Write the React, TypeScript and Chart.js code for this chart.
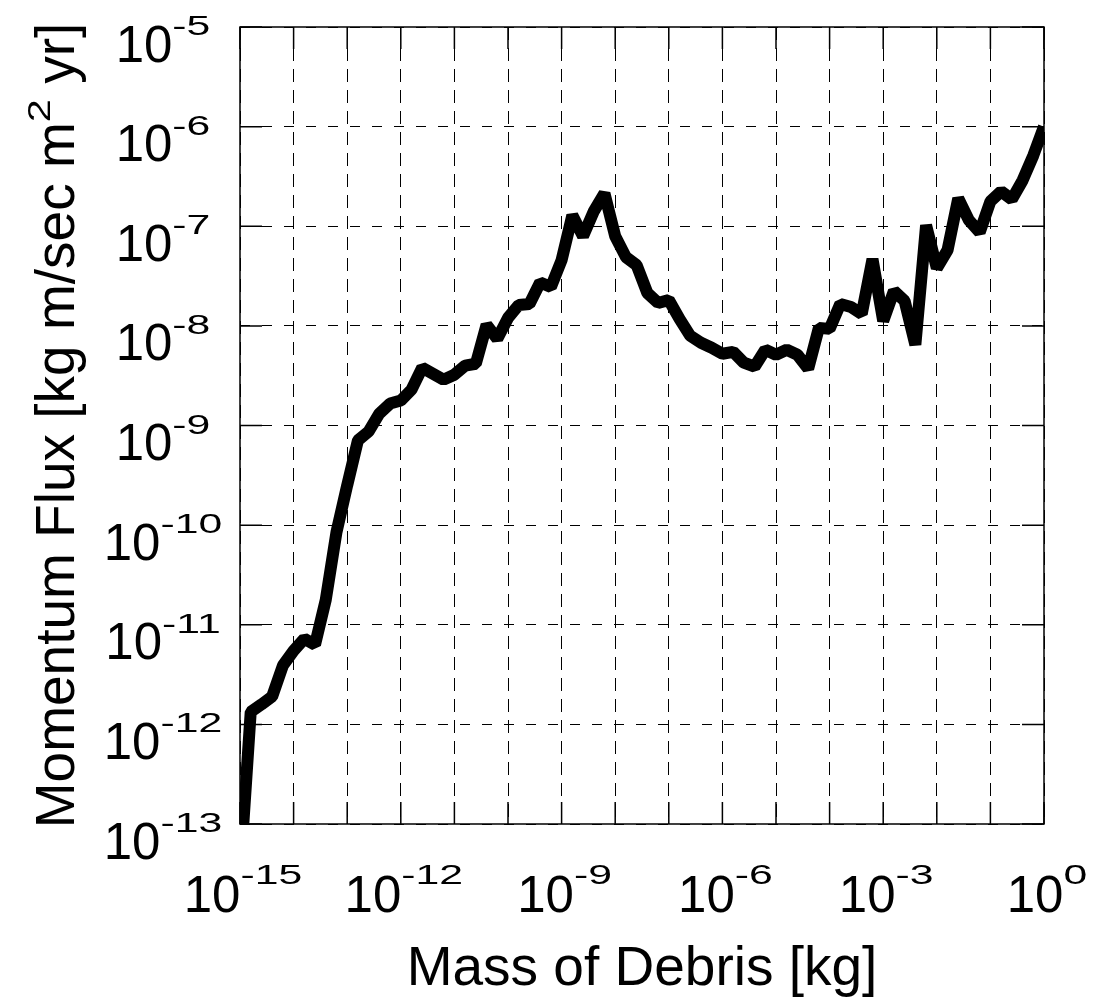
import React, { useEffect, useRef } from "react";
import { Chart, registerables } from "chart.js";

Chart.register(...registerables);

// log10 of debris mass [kg]
const massLog = [
  -15.0, -14.8, -14.6, -14.4, -14.2, -14.0, -13.8, -13.6, -13.4, -13.2,
  -13.0, -12.8, -12.6, -12.4, -12.2, -12.0, -11.8, -11.6, -11.4, -11.2,
  -11.0, -10.8, -10.6, -10.4, -10.2, -10.0, -9.8, -9.6, -9.4, -9.2,
  -9.0, -8.8, -8.6, -8.4, -8.2, -8.0, -7.8, -7.6, -7.4, -7.2,
  -7.0, -6.8, -6.6, -6.4, -6.2, -6.0, -5.8, -5.6, -5.4, -5.2,
  -5.0, -4.8, -4.6, -4.4, -4.2, -4.0, -3.8, -3.6, -3.4, -3.2,
  -3.0, -2.8, -2.6, -2.4, -2.2, -2.0, -1.8, -1.6, -1.4, -1.2,
  -1.0, -0.8, -0.6, -0.4, -0.2, 0.0,
];

// log10 of momentum flux [kg m/sec m^2 yr]
const fluxLog = [
  -13.5, -11.875, -11.8, -11.72, -11.41, -11.26, -11.14, -11.2, -10.75, -10.07,
  -9.6, -9.15, -9.06, -8.88, -8.78, -8.75, -8.64, -8.42, -8.48, -8.54,
  -8.49, -8.4, -8.38, -7.99, -8.13, -7.92, -7.79, -7.78, -7.565, -7.61,
  -7.34, -6.89, -7.1, -6.85, -6.67, -7.1, -7.31, -7.39, -7.67, -7.77,
  -7.74, -7.93, -8.1, -8.17, -8.22, -8.28, -8.26, -8.37, -8.41, -8.24,
  -8.29, -8.24, -8.29, -8.43, -8.02, -8.03, -7.78, -7.81, -7.88, -7.33,
  -7.95, -7.65, -7.75, -8.19, -6.99, -7.42, -7.24, -6.72, -6.94, -7.06,
  -6.75, -6.65, -6.73, -6.54, -6.29, -6.0,
];

// grid decades and labelled decades
const xGridExp = [-15, -14, -13, -12, -11, -10, -9, -8, -7, -6, -5, -4, -3, -2, -1, 0];
const xLabelExp = [-15, -12, -9, -6, -3, 0];
const yGridExp = [-13, -12, -11, -10, -9, -8, -7, -6, -5];
const yLabelExp = [-13, -12, -11, -10, -9, -8, -7, -6, -5];

const xTitle = "Mass of Debris [kg]";
const yTitleMain = "Momentum Flux [kg m/sec m";
const yTitleSup = "2";
const yTitleEnd = " yr]";

const FONT = '"Liberation Sans", Arial, Helvetica, sans-serif';
const EXP_STRETCH = 1.5;

function drawPow(
  ctx: CanvasRenderingContext2D,
  cx: number,
  baseY: number,
  exp: string,
  baseSize: number,
  expSize: number,
  rise: number
) {
  ctx.font = `${baseSize}px ${FONT}`;
  const wb = ctx.measureText("10").width;
  ctx.font = `${expSize}px ${FONT}`;
  const we = ctx.measureText(exp).width * EXP_STRETCH;
  const left = cx - (wb + we) / 2;
  ctx.textAlign = "left";
  ctx.textBaseline = "alphabetic";
  ctx.font = `${baseSize}px ${FONT}`;
  ctx.fillText("10", left, baseY);
  ctx.save();
  ctx.translate(left + wb, baseY - rise);
  ctx.scale(EXP_STRETCH, 1);
  ctx.font = `${expSize}px ${FONT}`;
  ctx.fillText(exp, 0, 0);
  ctx.restore();
}

const decorPlugin = {
  id: "decor",
  afterDraw(chart: any) {
    const { ctx, chartArea: a, scales } = chart;
    const xs = scales.x;
    const ys = scales.y;
    ctx.save();
    ctx.setLineDash([]);
    ctx.strokeStyle = "#000";
    ctx.lineWidth = 1.5;
    ctx.strokeRect(a.left, a.top, a.right - a.left, a.bottom - a.top);

    const TL = 22;
    ctx.beginPath();
    for (const e of xGridExp) {
      const px = xs.getPixelForValue(Math.pow(10, e));
      ctx.moveTo(px, a.bottom);
      ctx.lineTo(px, a.bottom - TL);
      ctx.moveTo(px, a.top);
      ctx.lineTo(px, a.top + TL);
    }
    for (const e of yGridExp) {
      const py = ys.getPixelForValue(Math.pow(10, e));
      ctx.moveTo(a.left, py);
      ctx.lineTo(a.left + TL, py);
      ctx.moveTo(a.right, py);
      ctx.lineTo(a.right - TL, py);
    }
    ctx.stroke();

    ctx.fillStyle = "#000";
    // x tick labels
    for (const e of xLabelExp) {
      const px = xs.getPixelForValue(Math.pow(10, e));
      drawPow(ctx, px + 3, 912, String(e), 51, 28.5, 28);
    }
    // y tick labels
    for (const e of yLabelExp) {
      const py = ys.getPixelForValue(Math.pow(10, e));
      drawPow(ctx, 163, py + 34.5, String(e), 51, 28.5, 26.5);
    }

    // x title
    ctx.font = `55px ${FONT}`;
    ctx.textAlign = "center";
    ctx.textBaseline = "alphabetic";
    ctx.fillText(xTitle, (a.left + a.right) / 2, 985);

    // y title (rotated)
    ctx.save();
    ctx.translate(74, (a.top + a.bottom) / 2);
    ctx.rotate(-Math.PI / 2);
    ctx.textAlign = "left";
    ctx.font = `55px ${FONT}`;
    const w1 = ctx.measureText(yTitleMain).width;
    const w3 = ctx.measureText(yTitleEnd).width;
    ctx.font = `32px ${FONT}`;
    const supStretch = 1.3;
    const w2 = ctx.measureText(yTitleSup).width * supStretch;
    const total = w1 + w2 + w3;
    const x0 = -total / 2;
    ctx.font = `55px ${FONT}`;
    ctx.fillText(yTitleMain, x0, 0);
    ctx.save();
    ctx.translate(x0 + w1, -24);
    ctx.scale(supStretch, 1);
    ctx.font = `32px ${FONT}`;
    ctx.fillText(yTitleSup, 0, 0);
    ctx.restore();
    ctx.font = `55px ${FONT}`;
    ctx.fillText(yTitleEnd, x0 + w1 + w2, 0);
    ctx.restore();

    ctx.restore();
  },
};

export default function App() {
  const canvasRef = useRef<HTMLCanvasElement | null>(null);

  useEffect(() => {
    const canvas = canvasRef.current;
    if (!canvas) return;
    const points = massLog.map((m, i) => ({ x: Math.pow(10, m), y: Math.pow(10, fluxLog[i]) }));
    const chart = new Chart(canvas, {
      type: "line",
      data: {
        datasets: [
          {
            data: points,
            borderColor: "#000",
            backgroundColor: "#000",
            borderWidth: 12,
            pointRadius: 0,
            borderJoinStyle: "bevel",
            borderCapStyle: "butt",
            tension: 0,
            fill: false,
          } as any,
        ],
      },
      options: {
        responsive: false,
        animation: false,
        devicePixelRatio: 1,
        layout: { padding: { left: 0, top: 27, right: 50, bottom: 0 } },
        plugins: { legend: { display: false }, tooltip: { enabled: false }, title: { display: false } },
        scales: {
          x: {
            type: "logarithmic",
            min: 1e-15,
            max: 1,
            afterBuildTicks: (s: any) => {
              s.ticks = xGridExp.map((e) => ({ value: Math.pow(10, e) }));
            },
            afterFit: (s: any) => {
              s.height = 180;
            },
            ticks: { display: false },
            grid: { color: "#000", lineWidth: 1, drawTicks: false },
            border: { display: false, dash: [13, 8] },
          },
          y: {
            type: "logarithmic",
            min: 1e-13,
            max: 1e-5,
            afterBuildTicks: (s: any) => {
              s.ticks = yGridExp.map((e) => ({ value: Math.pow(10, e) }));
            },
            afterFit: (s: any) => {
              s.width = 240;
            },
            ticks: { display: false },
            grid: { color: "#000", lineWidth: 1, drawTicks: false },
            border: { display: false, dash: [10, 12] },
          },
        },
      } as any,
      plugins: [decorPlugin],
    });
    return () => chart.destroy();
  }, []);

  return (
    <div style={{ position: "absolute", left: 0, top: 0, width: 1094, height: 1004, background: "#fff" }}>
      <canvas ref={canvasRef} width={1094} height={1004} style={{ display: "block", width: 1094, height: 1004 }} />
    </div>
  );
}
